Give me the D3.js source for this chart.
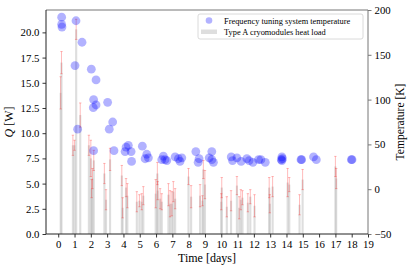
<!DOCTYPE html>
<html>
<head>
<meta charset="utf-8">
<script src="https://cdn.jsdelivr.net/npm/d3@7"></script>
<style>
	body { margin: 0; background: #fff; }
	svg text { font-family: "Liberation Serif", "DejaVu Serif", serif; fill: #000; }
</style>
</head>
<body>
<svg id="chart" width="415" height="271"></svg>
<script>

// Frequency tuning system temperature (scatter, right axis)
const tempDays = [0.21, 0.21, 0.23, 1.09, 1.46, 1.03, 2.03, 2.32, 2.17, 2.32, 2.15, 3.03, 3.34, 1.19, 3.13,
	2.17, 3.42, 4.16, 4.30, 4.10, 4.47, 4.50, 5.16, 5.43, 5.33, 5.53, 6.45, 6.35, 6.55, 6.66,
	7.17, 7.37, 7.47, 7.58, 8.44, 8.64, 8.58, 9.26, 9.42, 9.42, 9.52, 10.61, 10.69, 10.96, 11.22,
	11.57, 11.71, 11.94, 12.29, 12.43, 12.70, 13.72, 13.72, 13.75, 13.68, 14.89, 14.93, 15.66, 15.83,
	17.98, 18.02];
const tempValues = [192, 184, 181, 188, 164, 138, 134, 122, 100, 94, 91, 97, 75, 67, 67,
	43, 43, 47, 49, 42, 42, 31, 48, 39, 34, 35, 37, 33, 33, 32,
	36, 34, 31, 35, 42, 34, 30, 35, 42, 33, 30, 36, 32, 35, 31,
	34, 32, 30, 33, 33, 30, 36, 32, 34, 33, 33, 33, 36, 33,
	33, 33];

// Type A cryomodules heat load (bars with error bars, left axis)
const loadDays = [0.15, 0.20, 0.90, 1.00, 1.10, 1.35, 1.88, 2.00, 2.05, 2.10, 2.18, 2.83, 2.93, 3.18,
	3.90, 3.95, 4.16, 4.24, 4.82, 4.98, 5.12, 5.22, 5.98, 6.08, 6.10, 6.25, 6.35, 6.76, 6.86, 6.97,
	7.06, 7.17, 7.99, 8.15, 8.70, 8.85, 8.90, 9.00, 10.00, 10.03, 10.34, 10.60, 10.96, 11.10, 11.20,
	11.30, 11.63, 11.78, 12.04, 12.94, 12.98, 13.15, 14.07, 14.17, 14.80, 14.99, 17.00, 17.05];
const loadQ = [14.0, 17.0, 8.8, 8.8, 20.3, 11.8, 8.8, 7.5, 4.5, 5.5, 7.3, 6.0, 3.4, 7.4,
	5.8, 2.6, 4.6, 3.8, 3.2, 3.3, 3.2, 3.8, 4.0, 6.0, 4.3, 3.5, 3.2, 3.9, 3.0, 3.0,
	4.2, 3.5, 5.7, 3.7, 3.8, 3.3, 6.4, 4.9, 3.2, 4.6, 2.7, 3.3, 4.8, 2.6, 3.4,
	3.6, 3.1, 3.7, 2.8, 4.6, 3.0, 4.7, 5.1, 4.9, 2.9, 5.4, 6.7, 5.5];
const loadErr = [1.6, 1.1, 1.0, 0.5, 1.0, 1.2, 1.0, 1.8, 0.9, 1.0, 1.0, 1.0, 1.0, 1.1,
	1.0, 1.0, 0.9, 1.2, 1.0, 0.6, 0.8, 0.9, 1.4, 1.1, 0.9, 1.0, 0.8, 1.1, 1.3, 1.2,
	1.0, 1.0, 0.8, 1.1, 1.1, 0.5, 0.9, 1.4, 0.8, 1.0, 1.0, 1.0, 0.9, 1.1, 1.0,
	0.7, 0.9, 0.7, 1.1, 1.0, 0.9, 1.0, 1.4, 0.7, 1.0, 1.0, 1.0, 1.0];

const xTicks = d3.range(0, 20);
const qTicks = [0, 2.5, 5, 7.5, 10, 12.5, 15, 17.5, 20];
const tTicks = [-50, 0, 50, 100, 150, 200];

const legendLabels = ["Frequency tuning system temperature", "Type A cryomodules heat load"];

const svg = d3.select("#chart");
const plot = {left: 46, right: 368, top: 10, bottom: 234};

const x = d3.scaleLinear().domain([-0.75, 19]).range([plot.left, plot.right]);
const yQ = d3.scaleLinear().domain([0, 22.22]).range([plot.bottom, plot.top]);
const yT = d3.scaleLinear().domain([-50, 200]).range([plot.bottom, plot.top]);

const bars = loadDays.map((d, i) => ({day: d, q: loadQ[i], err: loadErr[i]}));
const temps = tempDays.map((d, i) => ({day: d, t: tempValues[i]}));

const barWidth = x(0.13) - x(0);

// bars
svg.append("g")
	.selectAll("rect")
	.data(bars)
	.enter()
	.append("rect")
		.attr("x", d => x(d.day) - barWidth / 2)
		.attr("y", d => yQ(d.q))
		.attr("width", barWidth)
		.attr("height", d => yQ(0) - yQ(d.q))
		.attr("fill", "#b5b5b5")
		.attr("fill-opacity", 0.45);

// error bars
const errG = svg.append("g")
	.attr("stroke", "#ff0000")
	.attr("stroke-opacity", 0.3)
	.attr("stroke-width", 0.9)
	.attr("fill", "none");

errG.selectAll("path")
	.data(bars)
	.enter()
	.append("path")
		.attr("d", d => {
			const cx = x(d.day), y1 = yQ(d.q + d.err), y2 = yQ(d.q - d.err);
			return `M${cx},${y1}V${y2}M${cx - 1.2},${y1}H${cx + 1.2}M${cx - 1.2},${y2}H${cx + 1.2}`;
		});

// temperature points
svg.append("g")
	.selectAll("circle")
	.data(temps)
	.enter()
	.append("circle")
		.attr("cx", d => x(d.day))
		.attr("cy", d => yT(d.t))
		.attr("r", 4.4)
		.attr("fill", "#0000ff")
		.attr("fill-opacity", 0.3);

// axes
const xAxis = d3.axisBottom(x).tickValues(xTicks).tickFormat(d3.format("d")).tickSize(3.5).tickPadding(3);
const yAxisL = d3.axisLeft(yQ).tickValues(qTicks).tickFormat(d3.format(".1f")).tickSize(3.5).tickPadding(3);
const yAxisR = d3.axisRight(yT).tickValues(tTicks).tickFormat(d => d < 0 ? "\u2212" + Math.abs(d) : d).tickSize(3.5).tickPadding(3);

function styleAxis(g, color) {
	g.select(".domain").remove();
	g.selectAll(".tick line").attr("stroke", color).attr("stroke-width", 0.8);
	g.selectAll(".tick text").attr("font-size", 10.8).attr("font-family", "Liberation Serif");
}

svg.append("g")
	.attr("transform", `translate(0,${plot.bottom})`)
	.call(xAxis)
	.call(g => styleAxis(g, "#000"));

svg.append("g")
	.attr("transform", `translate(${plot.left},0)`)
	.call(yAxisL)
	.call(g => styleAxis(g, "#000"));

svg.append("g")
	.attr("transform", `translate(${plot.right},0)`)
	.call(yAxisR)
	.call(g => styleAxis(g, "#555"));

// spines
const spines = svg.append("g").attr("stroke-width", 1).attr("fill", "none");
spines.append("line").attr("x1", plot.left).attr("x2", plot.right).attr("y1", plot.top).attr("y2", plot.top).attr("stroke", "#777");
spines.append("line").attr("x1", plot.right).attr("x2", plot.right).attr("y1", plot.top).attr("y2", plot.bottom).attr("stroke", "#777");
spines.append("line").attr("x1", plot.left).attr("x2", plot.left).attr("y1", plot.top).attr("y2", plot.bottom).attr("stroke", "#222");
spines.append("line").attr("x1", plot.left).attr("x2", plot.right).attr("y1", plot.bottom).attr("y2", plot.bottom).attr("stroke", "#222");

// axis labels
svg.append("text")
	.attr("x", (plot.left + plot.right) / 2)
	.attr("y", 262)
	.attr("text-anchor", "middle")
	.attr("font-size", 12)
	.text("Time [days]");

const qLabel = svg.append("text")
	.attr("transform", `translate(13,${(plot.top + plot.bottom) / 2}) rotate(-90)`)
	.attr("text-anchor", "middle")
	.attr("font-size", 12);
qLabel.append("tspan").attr("font-style", "italic").text("Q");
qLabel.append("tspan").text(" [W]");

svg.append("text")
	.attr("transform", `translate(404,${(plot.top + plot.bottom) / 2}) rotate(-90)`)
	.attr("text-anchor", "middle")
	.attr("font-size", 11.5)
	.text("Temperature [K]");

// legend
const legend = svg.append("g").attr("transform", "translate(198,14)");
legend.append("rect")
	.attr("width", 165)
	.attr("height", 25)
	.attr("rx", 2)
	.attr("fill", "#fff")
	.attr("fill-opacity", 0.8)
	.attr("stroke", "#d0d0d0")
	.attr("stroke-width", 0.8);
legend.append("circle")
	.attr("cx", 11)
	.attr("cy", 6.5)
	.attr("r", 3.3)
	.attr("fill", "#0000ff")
	.attr("fill-opacity", 0.3);
legend.append("rect")
	.attr("x", 3)
	.attr("y", 15.5)
	.attr("width", 16)
	.attr("height", 4.5)
	.attr("fill", "#b5b5b5")
	.attr("fill-opacity", 0.45);
legend.selectAll("text.leg")
	.data(legendLabels)
	.enter()
	.append("text")
		.attr("class", "leg")
		.attr("x", 26)
		.attr("y", (d, i) => 9.5 + i * 11.5)
		.attr("font-size", 8.4)
		.text(d => d);

</script>
</body>
</html>
